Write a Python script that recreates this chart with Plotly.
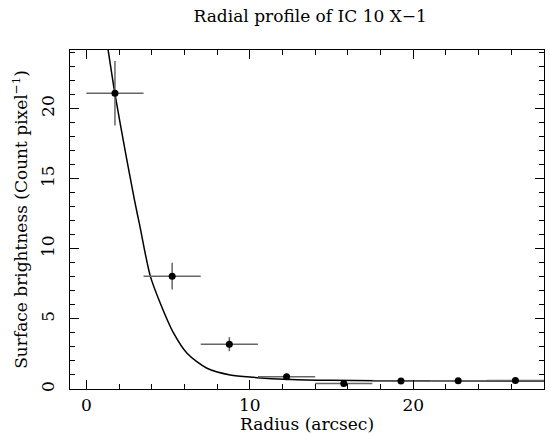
import plotly.graph_objects as go

# Binned radial profile data
radius = [1.75, 5.25, 8.75, 12.25, 15.75, 19.25, 22.75, 26.25]
radius_halfwidth = [1.75, 1.75, 1.75, 1.75, 1.75, 1.75, 1.75, 1.75]
brightness = [21.1, 8.05, 3.2, 0.88, 0.40, 0.57, 0.58, 0.60]
brightness_err = [2.3, 0.95, 0.5, 0.12, 0.1, 0.1, 0.1, 0.1]

# Model curve
model_r = [1.15, 1.33, 1.73, 2.39, 2.94, 3.26, 3.91, 4.53, 5.34, 6.16, 7.38, 8.8, 10.23, 12.5, 15.0, 20.0, 28.0]
model_b = [25.5, 24.2, 21.2, 16.9, 13.5, 11.7, 8.07, 6.1, 3.98, 2.55, 1.48, 1.0, 0.83, 0.68, 0.62, 0.58, 0.57]

FONT = "DejaVu Serif"
FS = 17

fig = go.Figure()
fig.add_trace(go.Scatter(
    x=model_r, y=model_b, mode="lines", line=dict(color="black", width=1.5, shape="spline", smoothing=0.8),
    hoverinfo="skip", showlegend=False))
fig.add_trace(go.Scatter(
    x=radius, y=brightness, mode="markers",
    marker=dict(color="black", size=7),
    error_x=dict(type="data", array=radius_halfwidth, color="#666666", thickness=1.5, width=0),
    error_y=dict(type="data", array=brightness_err, color="#666666", thickness=1.5, width=0),
    showlegend=False))

axis_common = dict(
    showgrid=False, zeroline=False, showline=True, linecolor="black", linewidth=1.2,
    mirror="ticks", ticks="inside", ticklen=9, tickwidth=1, tickcolor="black",
    tickfont=dict(family=FONT, size=FS, color="black"),
)

fig.update_layout(
    width=551, height=435,
    margin=dict(l=70, r=7, t=50, b=46),
    paper_bgcolor="white", plot_bgcolor="white",
    title=dict(text="Radial profile of IC 10 X\u22121", x=0.563, xanchor="center",
               y=0.963, yanchor="middle", font=dict(family=FONT, size=FS, color="black")),
    xaxis=dict(range=[-1, 28], tickvals=[0, 10, 20],
               minor=dict(dtick=2, tick0=0, ticks="inside", ticklen=5, tickcolor="black"),
               ticklabelstandoff=0,
               title=dict(text="Radius (arcsec)", font=dict(family=FONT, size=FS, color="black"), standoff=0),
               **axis_common),
    yaxis=dict(range=[0, 24.18], tickvals=[0, 5, 10, 15, 20], tickangle=-90,
               minor=dict(dtick=1, tick0=0, ticks="inside", ticklen=5, tickcolor="black"),
               title=dict(text="Surface brightness (Count pixel<sup>\u22121</sup>)",
                          font=dict(family=FONT, size=FS, color="black"), standoff=6),
               ticklabelstandoff=8,
               **axis_common),
)

fig.write_html("out.html")
